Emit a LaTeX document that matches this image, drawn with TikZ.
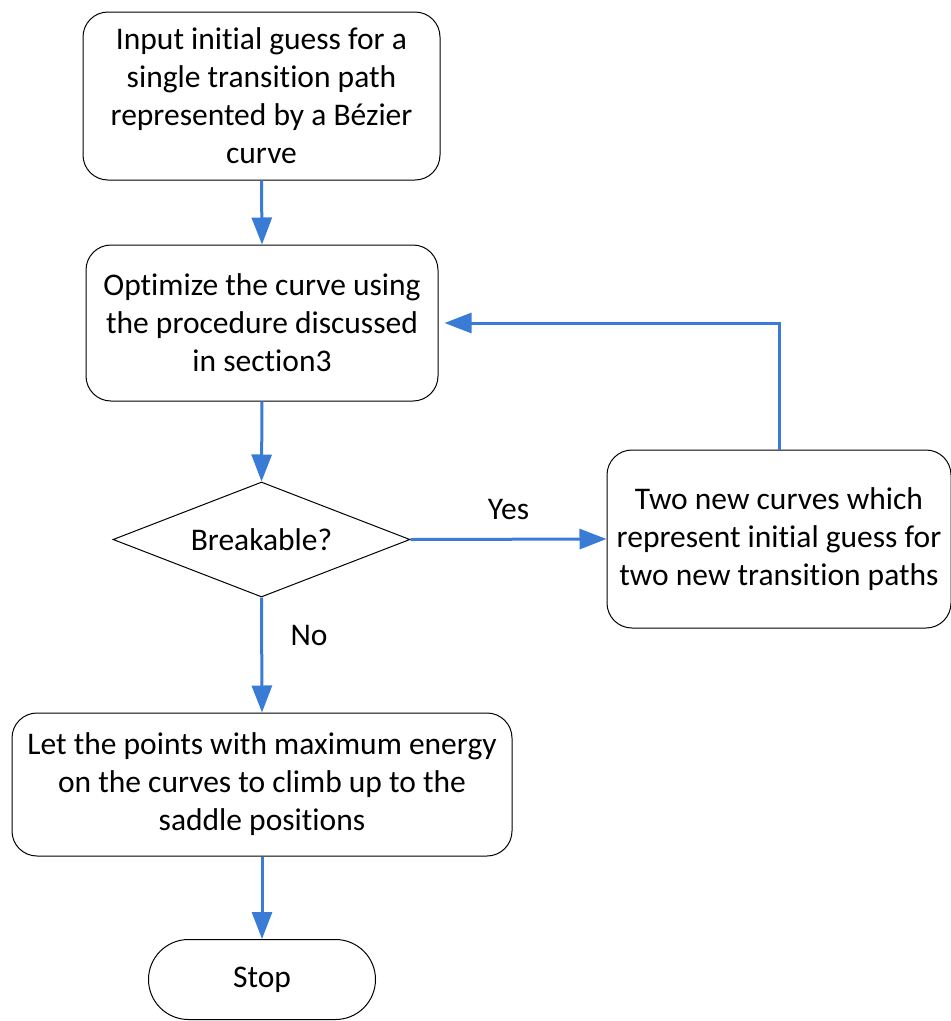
\documentclass[tikz,border=0pt]{standalone}
\usepackage{fontspec}
\setmainfont{Carlito}[Ligatures=NoCommon]
\usetikzlibrary{arrows.meta,shapes.geometric}
\definecolor{flowblue}{RGB}{58,123,213}
\begin{document}
\begin{tikzpicture}[x=1pt,y=-1pt,
  txt/.style={font=\fontsize{31.5}{38}\selectfont},
  box/.style={txt, draw=black, line width=1pt, rounded corners=25pt, align=center, inner sep=0pt},
  flow/.style={draw=flowblue, line width=3pt, -{Triangle[length=27pt,width=20pt]}}]
\useasboundingbox (0,0) rectangle (951,1021);
\node[box, minimum width=357pt, minimum height=168pt] (b1) at (261.5,96)
  {Input initial guess for a\\single transition path\\represented by a Bézier\\curve};
\node[box, minimum width=352pt, minimum height=156pt] (b2) at (262,323)
  {Optimize the curve using\\the procedure discussed\\in section3};
\node[txt, draw=black, line width=1pt, shape=diamond, aspect=2.58, inner sep=0pt,
  minimum width=297pt, minimum height=115pt] (d) at (261.5,539.5) {Breakable?};
\node[box, minimum width=344pt, minimum height=178pt] (b3) at (779,539)
  {Two new curves which\\represent initial guess for\\two new transition paths};
\node[box, minimum width=500pt, minimum height=143pt] (b4) at (262,784.5)
  {Let the points with maximum energy\\on the curves to climb up to the\\saddle positions};
\node[box, rounded corners=40pt, minimum width=227pt, minimum height=80pt] (s) at (262,979.5) {Stop};
\draw[flow] (b1.south) -- (b2.north);
\draw[flow] (b2.south) -- (d.north);
\draw[flow] (d.east) -- node[txt, midway, yshift=30pt] {Yes} (b3.west);
\draw[flow] (b3.north) -- (b3.north |- b2.east) -- ([xshift=6pt]b2.east);
\draw[flow] (d.south) -- node[txt, pos=0.33, anchor=west, xshift=24pt] {No} (b4.north);
\draw[flow] (b4.south) -- (s.north);
\end{tikzpicture}
\end{document}
